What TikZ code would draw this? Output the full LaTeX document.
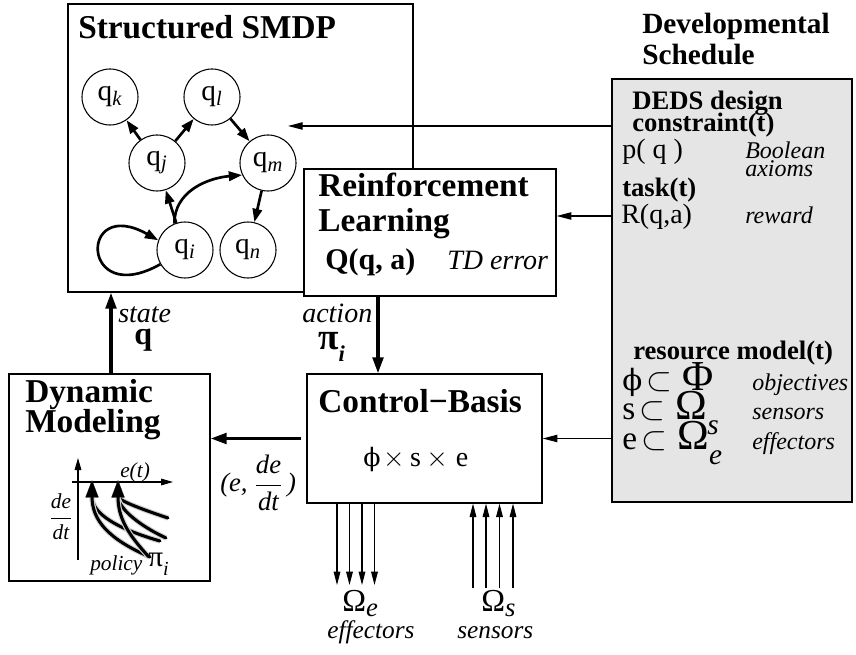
\documentclass[tikz,border=0pt]{standalone}
\usepackage{fontspec}
\setmainfont{Liberation Serif}
\newfontfamily\symfont{DejaVu Serif}
\usetikzlibrary{arrows.meta}
\newcommand{\qsub}[1]{\textsubscript{\textit{#1}}}
\newcommand{\fsz}[1]{\fontsize{#1}{#1}\selectfont}

\begin{document}
\begin{tikzpicture}[x=0.75pt, y=-0.75pt]
    \tikzstyle{box} = [draw, black, line width=1pt, fill=white, inner sep=0pt]
    \tikzstyle{state} = [draw, black, circle, line width=0.8pt, minimum size=42pt, inner sep=0pt, font=\fsz{22}]
    \tikzstyle{hd} = [anchor=base west, inner sep=0pt, font=\fsz{25}\bfseries]
    \tikzstyle{txt} = [anchor=base west, inner sep=0pt, font=\fsz{21}]
    \tikzstyle{lbl} = [anchor=base west, inner sep=0pt, font=\fsz{18}\itshape]
    \tikzstyle{trans} = [draw, black, line width=2pt, -{Triangle[length=10pt, width=7pt]}]
    \tikzstyle{flow} = [draw, black, line width=2.4pt, -{Triangle[length=12pt, width=8pt]}]
    \tikzstyle{feed} = [draw, black, line width=0.8pt, -{Triangle[length=11pt, width=5.5pt]}]
    \tikzstyle{wire} = [draw, black, line width=0.8pt, -{Triangle[length=10pt, width=5pt]}]
    \tikzstyle{curve} = [draw, black, line width=2.3pt, line cap=round,
        preaction={draw, gray!35, line width=4pt}, -{Triangle[length=13pt, width=9pt]}]

    \useasboundingbox (0, 0) rectangle (856, 655);

    % boxes
    \node[box, minimum width=258.75pt, minimum height=216pt] (smdp) at (240.5, 148) {};
    \node[box, minimum width=189pt, minimum height=95.25pt] (rl) at (430, 232.5) {};
    \node[box, fill=gray!20, minimum width=180pt, minimum height=317.25pt] (sched) at (732, 290.5) {};
    \node[box, minimum width=150.75pt, minimum height=155.25pt] (dyn) at (109.5, 477.5) {};
    \node[box, minimum width=176.25pt, minimum height=96.75pt] (cb) at (424.5, 438.5) {};

    % structured SMDP
    \node[hd] (smdpt) at (78, 39) {Structured SMDP};
    \node[state] (qk) at (110, 97) {q\qsub{k}};
    \node[state] (ql) at (212, 97) {q\qsub{l}};
    \node[state] (qj) at (157, 163) {q\qsub{j}};
    \node[state] (qm) at (268, 163) {q\qsub{m}};
    \node[state] (qi) at (185, 250) {q\qsub{i}};
    \node[state] (qn) at (248, 250) {q\qsub{n}};

    \path[trans] (qj) to (qk);
    \path[trans] (qj) to (ql);
    \path[trans] (ql) to (qm);
    \path[trans] (qm) to (qn);
    \path[trans] (qi) to (qj);
    \path[trans] (qi.112) .. controls +(0,-32) and +(-35,3) .. (qm.205);
    \path[trans] (qi.210) .. controls +(-80,45) and +(-80,-45) .. (qi.160);

    % reinforcement learning
    \node[hd] (rlt1) at (318, 197) {Reinforcement};
    \node[hd] (rlt2) at (318, 232) {Learning};
    \node[txt, font=\fsz{22.5}\bfseries] (qval) at (325, 270) {Q(q, a)};
    \node[lbl, font=\fsz{21}\itshape] (tderr) at (447, 270) {TD error};

    % developmental schedule
    \node[hd, font=\fsz{22}\bfseries] (devt1) at (642, 34) {Developmental};
    \node[hd, font=\fsz{22}\bfseries] (devt2) at (642, 65) {Schedule};
    \node[txt, font=\fsz{20}\bfseries] (deds1) at (632, 110) {DEDS design};
    \node[txt, font=\fsz{20}\bfseries] (deds2) at (632, 132) {constraint(t)};
    \node[txt] (pq) at (622, 159) {p( q )};
    \node[lbl] (bool1) at (745, 159) {Boolean};
    \node[lbl] (bool2) at (745, 177) {axioms};
    \node[txt, font=\fsz{20}\bfseries] (task) at (622, 197) {task(t)};
    \node[txt] (rqa) at (621, 224) {R(q,a)};
    \node[lbl] (rew) at (745, 224) {reward};
    \node[txt, font=\fsz{20}\bfseries] (res) at (633, 360) {resource model(t)};
    \node[txt, font=\fsz{25}] (objs) at (622, 391) {{\symfont\fsz{22}ϕ}\hspace{3pt}$\subset$\hspace{8pt}\fsz{32}Φ};
    \node[lbl] (objl) at (752, 391) {objectives};
    \node[txt, font=\fsz{25}] (sens) at (622, 420) {s\hspace{3pt}$\subset$\hspace{8pt}\fsz{32}Ω\raisebox{-11pt}{\fsz{22}\itshape s}};
    \node[lbl] (senl) at (752, 420) {sensors};
    \node[txt, font=\fsz{25}] (effs) at (622, 450) {e\hspace{3pt}$\subset$\hspace{8pt}\fsz{32}Ω\raisebox{-11pt}{\fsz{22}\itshape e}};
    \node[lbl] (effl) at (752, 450) {effectors};

    % dynamic modeling
    \node[hd] (dynt1) at (25, 403) {Dynamic};
    \node[hd] (dynt2) at (25, 432) {Modeling};
    \coordinate (vtop) at (78, 458);
    \coordinate (vbot) at (78, 560);
    \coordinate (hlft) at (72, 482);
    \coordinate (hrgt) at (173, 482);
    \path[draw, line width=0.8pt, -{Triangle[length=9pt, width=5pt]}] (vbot) to (vtop);
    \path[draw, line width=0.8pt, -{Triangle[length=9pt, width=5pt]}] (hlft) to (hrgt);
    \coordinate (tipa) at (92, 480);
    \coordinate (tipb) at (118, 480);
    \path[curve] (160, 541) .. controls +(-42,-12) and +(0,34) .. (tipa);
    \path[curve] (150, 557) .. controls +(-42,-18) and +(0,40) .. (tipa);
    \path[curve] (168, 518) .. controls +(-30,-10) and +(0,20) .. (tipb);
    \path[curve] (166, 538) .. controls +(-32,-15) and +(0,26) .. (tipb);
    \path[curve] (148, 556) .. controls +(-20,-22) and +(0,38) .. (tipb);
    \node[lbl, font=\fsz{16}\itshape] (et) at (120, 477) {e(t)};
    \node[font=\fsz{16}\itshape, inner sep=0pt] (dedt) at (61, 517) {$\displaystyle\frac{\textit{de}}{\textit{dt}}$};
    \node[lbl, font=\fsz{16}\itshape] (pol) at (90, 570) {policy};
    \node[txt, font=\fsz{22}] (pii) at (148, 566) {π\raisebox{-7pt}{\fsz{15}\itshape i}};

    % control basis
    \node[hd] (cbt) at (318, 413) {Control−Basis};
    \node[txt] (cbs) at (363, 466) {{\symfont\fsz{19}ϕ}\hspace{2pt}$\times$\hspace{4pt}s\hspace{4pt}$\times$\hspace{6pt}e};

    % connections
    \coordinate (in1) at (288, 126);
    \coordinate (in2) at (0, 216);
    \path[feed] (sched.west |- in1) to (in1);
    \path[feed] (sched.west |- in2) to (rl.east |- in2);
    \path[feed] (sched.west |- cb.east) to (cb.east);

    \coordinate (act) at (378, 0);
    \path[flow] (rl.south -| act) to (cb.north -| act);
    \node[lbl, font=\fsz{21}\itshape] (actl) at (302, 323) {action};
    \node[txt, font=\fsz{28}\bfseries] (actpi) at (318, 350) {π\raisebox{-9pt}{\fsz{17}\itshape i}};

    \coordinate (sta) at (111, 0);
    \path[flow] (dyn.north -| sta) to (smdp.south -| sta);
    \node[lbl, font=\fsz{21}\itshape] (stal) at (118, 323) {state};
    \node[txt, font=\fsz{24}\bfseries] (staq) at (134, 345) {q};

    \path[flow] ([xshift=-3.75pt]cb.west) to (dyn.east |- cb.west);
    \node[lbl, font=\fsz{20}\itshape, anchor=west] (edl) at (220, 483) {(e, $\displaystyle\frac{\textit{de}}{\textit{dt}}$\,)};

    \foreach \x [count=\k] in {337, 349.5, 362, 374.5} {
        \coordinate (eff\k) at (\x, 585);
        \path[wire] (cb.south -| eff\k) to (eff\k);
    }
    \foreach \x [count=\k] in {473, 486, 499.5, 513} {
        \coordinate (sen\k) at (\x, 588);
        \path[wire] (sen\k) to (cb.south -| sen\k);
    }
    \node[txt, font=\fsz{24}] (omge) at (342, 611) {Ω\raisebox{-4pt}{\fsz{20}\itshape e}};
    \node[lbl, font=\fsz{19}\itshape] (effb) at (327, 638) {effectors};
    \node[txt, font=\fsz{24}] (omgs) at (481, 611) {Ω\raisebox{-4pt}{\fsz{20}\itshape s}};
    \node[lbl, font=\fsz{19}\itshape] (senb) at (457, 638) {sensors};
\end{tikzpicture}
\end{document}
